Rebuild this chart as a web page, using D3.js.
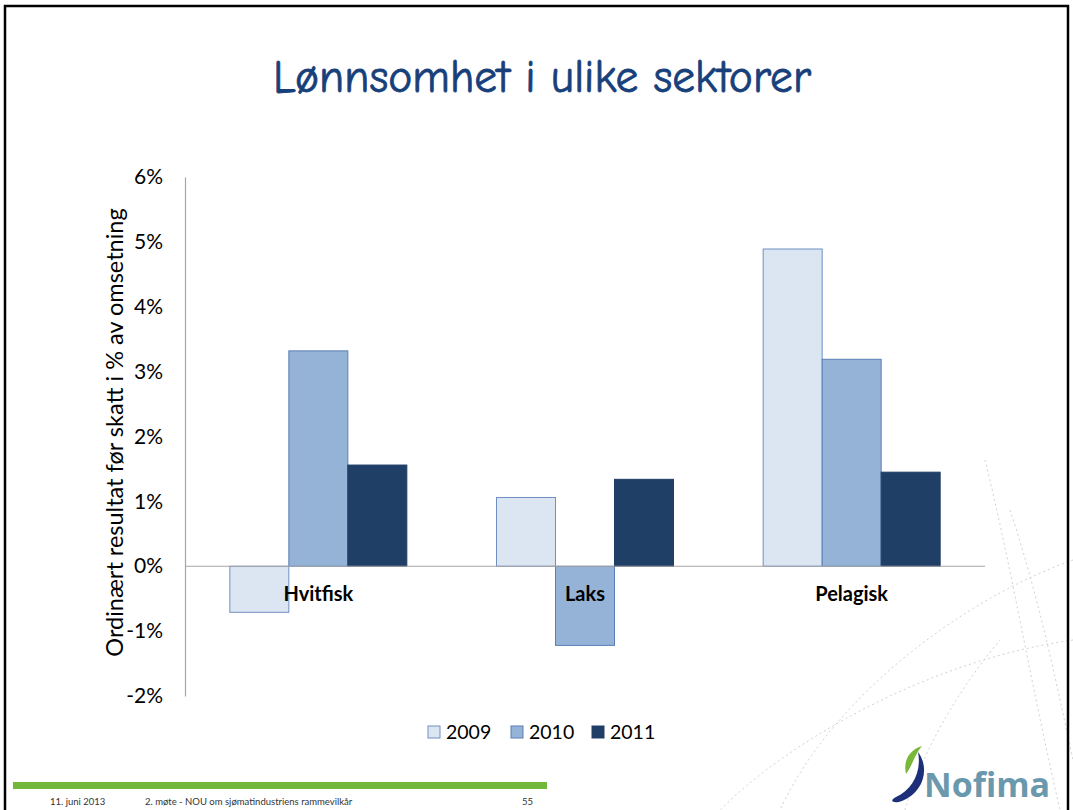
<!DOCTYPE html>
<html>
<head>
<meta charset="utf-8">
<script src="https://cdn.jsdelivr.net/npm/d3@7"></script>
<style>
  html, body { margin: 0; padding: 0; background: #fff; }
  svg { display: block; }
</style>
</head>
<body>
<svg id="chart" width="1073" height="810"></svg>
<script>
// Sectors, years and results (ordinary result before tax, % of turnover)
const sectors = ["Hvitfisk", "Laks", "Pelagisk"];
const years = ["2009", "2010", "2011"];
const values2009 = [-0.71, 1.06, 4.89];
const values2010 = [3.32, -1.22, 3.19];
const values2011 = [1.56, 1.34, 1.45];
const yTicks = [-2, -1, 0, 1, 2, 3, 4, 5, 6];
const seriesColors = ["#dce6f2", "#95b3d7", "#203f66"];
const seriesStroke = ["#6f8fc0", "#5a7fb5", "#203f66"];

const series = [values2009, values2010, values2011];

const svg = d3.select("#chart");
const W = 1073, H = 810;
const plotLeft = 185, plotRight = 985, plotTop = 177, plotBottom = 696;

// faint decorative curves in the lower right
const deco = svg.append("g").attr("fill", "none").attr("stroke", "#c8c8c8")
  .attr("stroke-width", 1).attr("stroke-dasharray", "2,3").attr("opacity", 0.8);
deco.append("path").attr("d", "M985,460 C1010,560 1030,680 1060,810");
deco.append("path").attr("d", "M1073,560 C960,600 830,700 780,810");
deco.append("path").attr("d", "M1073,640 C930,660 790,740 720,810");
deco.append("path").attr("d", "M1010,510 C1040,600 1060,700 1073,760");
deco.append("path").attr("d", "M905,810 C920,760 950,700 1000,640");

// slide frame
svg.append("path")
  .attr("d", `M5,${H} L5,6 L1068,6 L1068,${H}`)
  .attr("fill", "none").attr("stroke", "#000").attr("stroke-width", 2.5);

// title
svg.append("text")
  .attr("x", 542).attr("y", 92)
  .attr("text-anchor", "middle")
  .attr("font-family", "'Comic Sans MS', 'Comic Neue', cursive")
  .attr("font-size", 46)
  .attr("stroke", "#17407a")
  .attr("stroke-width", 0.8)
  .attr("textLength", 538)
  .attr("lengthAdjust", "spacingAndGlyphs")
  .attr("fill", "#17407a")
  .text("Lønnsomhet i ulike sektorer");

const y = d3.scaleLinear().domain([-2, 6]).range([plotBottom, plotTop]);
const x0 = d3.scaleBand().domain(sectors).range([plotLeft, plotRight]).padding(0);
const x1 = d3.scaleBand().domain(years).range([0, x0.bandwidth()])
  .paddingInner(0).paddingOuter(0.76);

const font = "Lato, 'Open Sans', sans-serif";

// y axis
const yAxis = d3.axisLeft(y).tickValues(yTicks).tickSize(0).tickPadding(22)
  .tickFormat(d => d + "%");
const ga = svg.append("g").attr("transform", `translate(${plotLeft},0)`).call(yAxis);
ga.select(".domain").attr("stroke", "#a6a6a6").attr("stroke-width", 1.2);
ga.selectAll("text").attr("font-family", font).attr("font-size", 21)
  .attr("fill", "#000");

// bars
const groups = svg.append("g").selectAll("g").data(sectors).join("g")
  .attr("transform", d => `translate(${x0(d)},0)`);
groups.selectAll("rect")
  .data((s, i) => years.map((yr, k) => ({ yr, k, v: series[k][i] })))
  .join("rect")
  .attr("x", d => x1(d.yr))
  .attr("width", x1.bandwidth())
  .attr("y", d => y(Math.max(0, d.v)))
  .attr("height", d => Math.abs(y(d.v) - y(0)))
  .attr("fill", d => seriesColors[d.k])
  .attr("stroke", d => seriesStroke[d.k])
  .attr("stroke-width", 1);

// zero line
svg.append("line")
  .attr("x1", plotLeft).attr("x2", plotRight)
  .attr("y1", y(0)).attr("y2", y(0))
  .attr("stroke", "#a6a6a6").attr("stroke-width", 1.2);

// category labels
svg.append("g").selectAll("text").data(sectors).join("text")
  .attr("x", d => x0(d) + x0.bandwidth() / 2)
  .attr("y", y(0) + 35)
  .attr("text-anchor", "middle")
  .attr("font-family", font).attr("font-weight", "bold").attr("font-size", 20)
  .attr("fill", "#000")
  .text(d => d);

// y axis title
svg.append("text")
  .attr("transform", `translate(123,${(plotTop + plotBottom) / 2 - 4}) rotate(-90)`)
  .attr("text-anchor", "middle")
  .attr("font-family", font).attr("font-size", 23.5)
  .attr("fill", "#000")
  .text("Ordinært resultat før skatt i % av omsetning");

// legend
const legendX = [428, 511, 592];
const leg = svg.append("g").selectAll("g").data(years).join("g")
  .attr("transform", (d, i) => `translate(${legendX[i]},726)`);
leg.append("rect").attr("width", 12).attr("height", 12)
  .attr("fill", (d, i) => seriesColors[i])
  .attr("stroke", (d, i) => seriesStroke[i]).attr("stroke-width", 1);
leg.append("text").attr("x", 18).attr("y", 13)
  .attr("font-family", font).attr("font-size", 19.5).attr("fill", "#000")
  .text(d => d);

// footer band and texts
svg.append("rect").attr("x", 13).attr("y", 782).attr("width", 534).attr("height", 7)
  .attr("fill", "#72b83a");
const foot = svg.append("g").attr("font-family", font).attr("font-size", 9.5)
  .attr("fill", "#333");
foot.append("text").attr("x", 50).attr("y", 805).text("11. juni 2013");
foot.append("text").attr("x", 145).attr("y", 805)
  .text("2. møte - NOU om sjømatindustriens rammevilkår");
foot.append("text").attr("x", 522).attr("y", 805).text("55");

// Nofima logo
const logo = svg.append("g");
logo.append("path")
  .attr("d", "M896,797 C912,790 922,772 918,752 C930,768 924,792 902,801 C894,804 888,801 896,797 Z")
  .attr("fill", "#1e2f7a");
logo.append("path")
  .attr("d", "M906,774 C903,761 909,750 922,746 C914,755 913,765 906,774 Z")
  .attr("fill", "#7ab83c");
logo.append("text").attr("x", 924).attr("y", 797)
  .attr("font-family", "'Open Sans', sans-serif").attr("font-weight", "bold")
  .attr("font-size", 34).attr("fill", "#6a98ad")
  .text("Nofima");
</script>
</body>
</html>
